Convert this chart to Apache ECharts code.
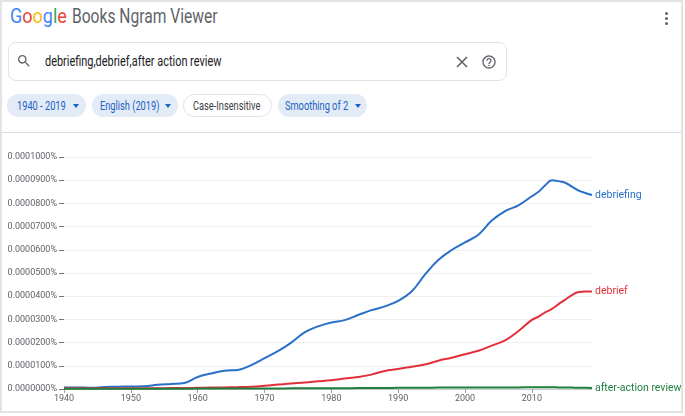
<!DOCTYPE html>
<html>
<head>
    <meta charset="utf-8">
    <title>Google Books Ngram Viewer</title>
    <script src="https://cdn.jsdelivr.net/npm/echarts@6/dist/echarts.min.js"></script>
    <style>
        body { margin: 0; background: #fff; font-family: Roboto, Arial, sans-serif; }
        .abs { position: absolute; }
        .sq { display: inline-block; transform-origin: left center; white-space: nowrap; }
        #frame { left: 0; top: 0; width: 683px; height: 413px; box-sizing: border-box; border: 2px solid #e3e3e3; }
        .chip { top: 94px; height: 23px; border-radius: 12px; background: #e3ebf6; box-sizing: border-box; }
        .chipText { top: 94px; line-height: 23px; font-size: 12.5px; color: #1a62c4; }
        .chipText .sq { transform: scaleX(0.74); }
        .arrow { top: 104px; width: 0; height: 0; border-left: 3.5px solid transparent; border-right: 3.5px solid transparent; border-top: 4px solid #1a62c4; }
        .dot { width: 3px; height: 3px; border-radius: 50%; background: #5f6368; left: 665px; }
    </style>
</head>
<body>
<div id="frame" class="abs"></div>

<!-- 顶部标题 -->
<div class="abs" style="left:10px;top:6px;line-height:20px;font-size:20px;">
    <span class="sq" style="transform:scaleX(0.9)"><span style="color:#4285f4">G</span><span style="color:#ea4335">o</span><span style="color:#fbbc05">o</span><span style="color:#4285f4">g</span><span style="color:#34a853">l</span><span style="color:#ea4335">e</span></span>
</div>
<div class="abs" style="left:72px;top:6px;line-height:20px;font-size:20px;color:#5f6368;">
    <span class="sq" style="transform:scaleX(0.78)">Books Ngram Viewer</span>
</div>
<div class="abs dot" style="top:12px"></div>
<div class="abs dot" style="top:17px"></div>
<div class="abs dot" style="top:22px"></div>

<!-- 搜索框 -->
<div class="abs" style="left:8px;top:42px;width:499px;height:39px;border:1px solid #e0e2e6;border-radius:8px;box-sizing:border-box;"></div>
<svg class="abs" style="left:16px;top:53px" width="16" height="16" viewBox="0 0 24 24">
    <path fill="#5f6368" d="M15.5 14h-.79l-.28-.27A6.470 6.470 0 0 0 16 9.5 6.5 6.5 0 1 0 9.5 16c1.61 0 3.090-.59 4.230-1.570l.27.28v.79l5 4.990L20.490 19l-4.990-5zm-6 0C7.010 14 5 11.990 5 9.5S7.010 5 9.5 5 14 7.010 14 9.5 11.990 14 9.5 14z"/>
</svg>
<div class="abs" style="left:45px;top:52px;line-height:18px;font-size:14px;color:#202124;">
    <span class="sq" style="transform:scaleX(0.78)">debriefing,debrief,after action review</span>
</div>
<svg class="abs" style="left:455px;top:55px" width="14" height="14" viewBox="0 0 14 14">
    <path d="M2 2L12 12M12 2L2 12" stroke="#5f6368" stroke-width="1.6"/>
</svg>
<svg class="abs" style="left:481px;top:54px" width="16" height="16" viewBox="0 0 24 24">
    <path fill="#5f6368" d="M11 18h2v-2h-2v2zm1-16C6.48 2 2 6.48 2 12s4.48 10 10 10 10-4.48 10-10S17.52 2 12 2zm0 18c-4.41 0-8-3.59-8-8s3.59-8 8-8 8 3.59 8 8-3.59 8-8 8zm0-14c-2.21 0-4 1.79-4 4h2c0-1.1.9-2 2-2s2 .9 2 2c0 2-3 1.75-3 5h2c0-2.25 3-2.5 3-5 0-2.21-1.79-4-4-4z"/>
</svg>

<!-- 选项 -->
<div class="abs chip" style="left:7px;width:79px"></div>
<div class="abs chipText" style="left:17px"><span class="sq">1940 - 2019</span></div>
<div class="abs arrow" style="left:73px"></div>

<div class="abs chip" style="left:92px;width:86px"></div>
<div class="abs chipText" style="left:100px"><span class="sq">English (2019)</span></div>
<div class="abs arrow" style="left:165px"></div>

<div class="abs chip" style="left:183px;width:89px;background:#fff;border:1px solid #e0e2e6"></div>
<div class="abs chipText" style="left:193px;color:#3c4043"><span class="sq">Case-Insensitive</span></div>

<div class="abs chip" style="left:278px;width:89px"></div>
<div class="abs chipText" style="left:285px"><span class="sq">Smoothing of 2</span></div>
<div class="abs arrow" style="left:355px"></div>

<div class="abs" style="left:2px;top:132px;width:679px;height:1px;background:#dadce0"></div>

<!-- 为 ECharts 准备一个具备大小（宽高）的 DOM -->
<div id="chart" class="abs" style="left:0;top:134px;width:685px;height:282px"></div>

<script type="text/javascript">
    // 数值单位：0.0000001%
    var years = [1940, 1942, 1944, 1946, 1948, 1950, 1952, 1954, 1956, 1958,
        1960, 1962, 1964, 1966, 1968, 1970, 1972, 1974, 1976, 1978,
        1980, 1982, 1984, 1986, 1988, 1990, 1992, 1994, 1996, 1998,
        2000, 2002, 2004, 2006, 2008, 2010, 2011, 2012, 2013, 2014,
        2015, 2016, 2017, 2018, 2019];
    var debriefing = [7, 7, 5, 9, 10, 11, 12, 18, 22, 26,
        52, 67, 79, 82, 103, 133, 163, 200, 244, 270,
        287, 297, 319, 340, 356, 380, 420, 493, 556, 599,
        632, 665, 726, 767, 792, 831, 850, 878, 900, 896,
        889, 872, 855, 845, 836];
    var debrief = [3, 3, 3, 3, 3, 3, 3, 3, 4, 4,
        5, 6, 7, 8, 10, 14, 19, 24, 28, 33,
        38, 45, 52, 62, 78, 86, 96, 106, 122, 135,
        150, 165, 187, 210, 250, 298, 312, 330, 345, 366,
        385, 405, 418, 420, 420];
    var afterActionReview = [1, 1, 1, 1, 1, 1, 1, 1, 1, 1,
        2, 2, 2, 2, 2, 2, 2, 3, 3, 3,
        3, 3, 4, 4, 4, 5, 5, 5, 6, 6,
        6, 6, 7, 7, 7, 8, 8, 8, 8, 7,
        7, 6, 5, 5, 4];
    var seriesNames = ['debriefing', 'debrief', 'after-action review'];
    var seriesColors = ['#2a6fc9', '#e2303a', '#1e7e3e'];
    var xTicks = [1940, 1950, 1960, 1970, 1980, 1990, 2000, 2010];
    var yMax = 1000;
    var yStep = 100;

    function pairs(values) {
        return years.map(function (y, i) { return [y, values[i]]; });
    }

    var allValues = [debriefing, debrief, afterActionReview];
    var series = allValues.map(function (values, i) {
        return {
            name: seriesNames[i],
            type: 'line',
            smooth: 0.4,
            showSymbol: false,
            data: pairs(values),
            lineStyle: {width: 2, color: seriesColors[i]},
            itemStyle: {color: seriesColors[i]},
            endLabel: {
                show: true,
                formatter: '{a}',
                color: seriesColors[i],
                fontSize: 10.5,
                distance: 3
            }
        };
    });

    var myChart = echarts.init(document.getElementById('chart'));
    myChart.setOption({
        animation: false,
        textStyle: {fontFamily: 'Roboto'},
        grid: {left: 64, right: 93, top: 23, bottom: 27},
        xAxis: {
            type: 'value',
            min: 1940,
            max: 2019,
            interval: 10,
            axisLine: {show: true, lineStyle: {color: '#c8c8c8'}},
            axisTick: {show: true, length: 4, customValues: xTicks, lineStyle: {color: '#9e9e9e'}},
            axisLabel: {
                customValues: xTicks,
                fontSize: 9,
                color: '#5f6368',
                margin: 5,
                formatter: function (v) { return String(v); }
            },
            splitLine: {show: false}
        },
        yAxis: {
            type: 'value',
            min: 0,
            max: yMax,
            interval: yStep,
            axisLine: {show: false},
            axisTick: {show: true, length: 5, lineStyle: {color: '#70757a'}},
            axisLabel: {
                fontSize: 9,
                color: '#5f6368',
                margin: 7,
                formatter: function (v) { return (v / 1e7).toFixed(7) + '%'; }
            },
            splitLine: {lineStyle: {color: '#efefef'}}
        },
        series: series
    });
</script>
</body>
</html>
